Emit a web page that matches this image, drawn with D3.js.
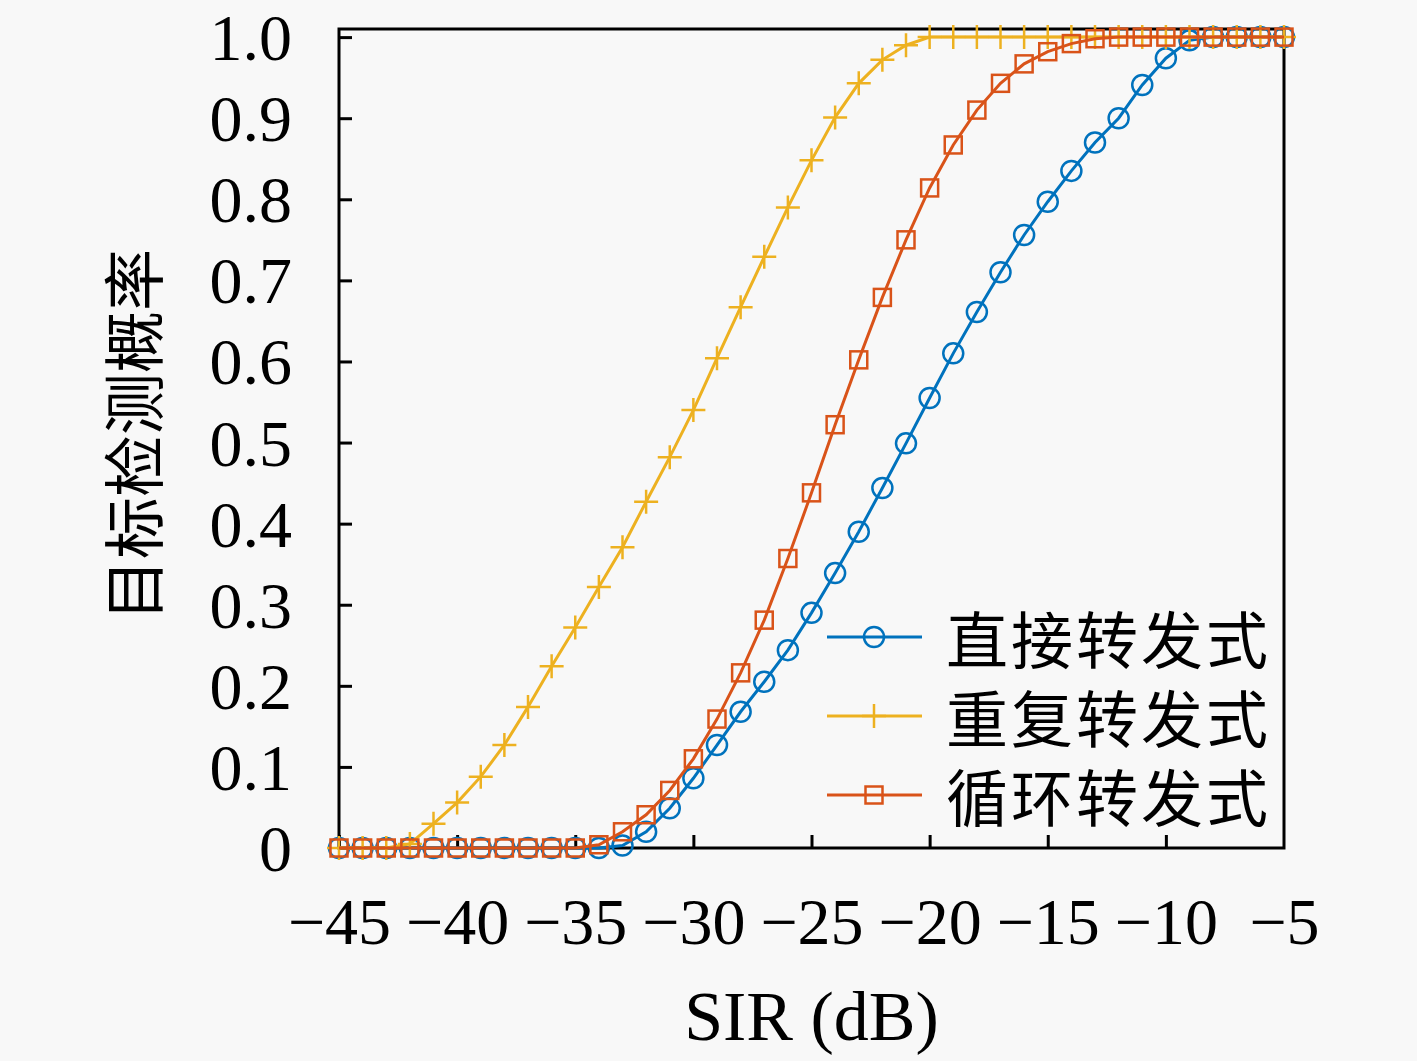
<!DOCTYPE html>
<html>
<head>
<meta charset="utf-8">
<script src="https://cdn.jsdelivr.net/npm/d3@7"></script>
<style>
  body { margin: 0; background: #f8f8f8; }
  svg { display: block; }
</style>
</head>
<body>
<div id="chart"></div>
<script>
// SIR in dB, one point per dB
const sir = d3.range(-45, -4, 1);

// 直接转发式 (circles)
const directVals = [0, 0, 0, 0, 0, 0, 0, 0, 0, 0, 0, 0, 0.003, 0.02, 0.049, 0.086, 0.127, 0.168, 0.205, 0.244, 0.29,
  0.339, 0.39, 0.444, 0.499, 0.555, 0.61, 0.661, 0.71, 0.756, 0.797, 0.835, 0.87, 0.9, 0.941, 0.974, 0.996,
  1, 1, 1, 1];
// 重复转发式 (plus)
const repeatVals = [0, 0, 0, 0.005, 0.03, 0.056, 0.088, 0.127, 0.174, 0.224, 0.272, 0.322, 0.371, 0.427, 0.482, 0.54,
  0.604, 0.667, 0.729, 0.79, 0.848, 0.901, 0.943, 0.972, 0.99, 1, 1, 1, 1, 1, 1, 1, 1, 1, 1, 1, 1, 1, 1, 1, 1];
// 循环转发式 (squares)
const cycleVals = [0, 0, 0, 0, 0, 0, 0, 0, 0, 0, 0, 0.004, 0.02, 0.041, 0.071, 0.11, 0.159, 0.216, 0.281, 0.357,
  0.438, 0.522, 0.602, 0.679, 0.75, 0.814, 0.867, 0.91, 0.943, 0.967, 0.982, 0.992, 0.998, 1, 1, 1, 1, 1, 1, 1, 1];

const seriesNames = ["直接转发式", "重复转发式", "循环转发式"];
const seriesColors = ["#0072BD", "#EDB120", "#D95319"];
const seriesMarkers = ["circle", "plus", "square"];
const xTicks = [-45, -40, -35, -30, -25, -20, -15, -10, -5];
const yTicks = [0, 0.1, 0.2, 0.3, 0.4, 0.5, 0.6, 0.7, 0.8, 0.9, 1.0];

const width = 1417;
const height = 1061;
const plotLeft = 339, plotRight = 1284, plotTop = 29, plotBottom = 848;

const svg = d3.select("#chart").append("svg").attr("width", width).attr("height", height);
svg.append("rect").attr("width", width).attr("height", height).attr("fill", "#f8f8f8");

const x = d3.scaleLinear().domain([-45, -5]).range([plotLeft, plotRight]);
const y = d3.scaleLinear().domain([0, 1.01]).range([plotBottom, plotTop]);

const tickFont = "'Liberation Serif', 'Times New Roman', serif";
const cjkFont = "'Noto Sans CJK SC', sans-serif";

// axes with inward ticks
const gx = svg.append("g")
  .attr("transform", `translate(0, ${plotBottom})`)
  .call(d3.axisBottom(x).tickValues(xTicks).tickSize(-13).tickPadding(49));
const gy = svg.append("g")
  .attr("transform", `translate(${plotLeft}, 0)`)
  .call(d3.axisLeft(y).tickValues(yTicks).tickSize(-13).tickPadding(47)
    .tickFormat(d => d === 0 ? "0" : d.toFixed(1)));

[gx, gy].forEach(g => {
  g.select(".domain").remove();
  g.selectAll(".tick line").attr("stroke", "#000").attr("stroke-width", 3);
  g.selectAll(".tick text").attr("fill", "#000")
    .style("font-family", tickFont).style("font-size", "66px");
});
// no tick mark on the right border
gx.selectAll(".tick").filter(d => d === -5).select("line").remove();
gy.selectAll(".tick text").attr("dy", "0.34em");

// box
svg.append("rect")
  .attr("x", plotLeft).attr("y", plotTop)
  .attr("width", plotRight - plotLeft).attr("height", plotBottom - plotTop)
  .attr("fill", "none").attr("stroke", "#000").attr("stroke-width", 3);

// axis titles
svg.append("text")
  .attr("x", (plotLeft + plotRight) / 2).attr("y", 1040)
  .attr("text-anchor", "middle")
  .style("font-family", tickFont).style("font-size", "70px")
  .text("SIR (dB)");

svg.append("text")
  .attr("transform", "translate(131, 435) rotate(-90)")
  .attr("text-anchor", "middle").attr("dominant-baseline", "central")
  .style("font-family", cjkFont).style("font-size", "62px")
  .text("目标检测概率");

// marker drawing
function drawMarker(g, type, cx, cy, color) {
  if (type === "circle") {
    g.append("circle").attr("cx", cx).attr("cy", cy).attr("r", 10)
      .attr("fill", "none").attr("stroke", color).attr("stroke-width", 2.5);
  } else if (type === "square") {
    g.append("rect").attr("x", cx - 8.5).attr("y", cy - 8.5).attr("width", 17).attr("height", 17)
      .attr("fill", "none").attr("stroke", color).attr("stroke-width", 2.5);
  } else {
    g.append("path").attr("d", `M${cx - 12},${cy}H${cx + 12}M${cx},${cy - 12}V${cy + 12}`)
      .attr("fill", "none").attr("stroke", color).attr("stroke-width", 2.5);
  }
}

const allVals = [directVals, repeatVals, cycleVals];
const line = d3.line().x(d => x(d[0])).y(d => y(d[1]));

allVals.forEach((vals, i) => {
  const pts = sir.map((s, j) => [s, vals[j]]);
  const g = svg.append("g");
  g.append("path").datum(pts)
    .attr("fill", "none").attr("stroke", seriesColors[i]).attr("stroke-width", 3)
    .attr("d", line);
  pts.forEach(p => drawMarker(g, seriesMarkers[i], x(p[0]), y(p[1]), seriesColors[i]));
});

// legend
const legendY = [637, 716, 795];
seriesNames.forEach((name, i) => {
  const g = svg.append("g");
  g.append("line").attr("x1", 827).attr("x2", 922).attr("y1", legendY[i]).attr("y2", legendY[i])
    .attr("stroke", seriesColors[i]).attr("stroke-width", 3);
  drawMarker(g, seriesMarkers[i], 874, legendY[i], seriesColors[i]);
  g.append("text").attr("x", 946).attr("y", legendY[i])
    .attr("dominant-baseline", "central")
    .style("font-family", cjkFont).style("font-size", "62px")
    .style("letter-spacing", "3px")
    .text(name);
});
</script>
</body>
</html>
